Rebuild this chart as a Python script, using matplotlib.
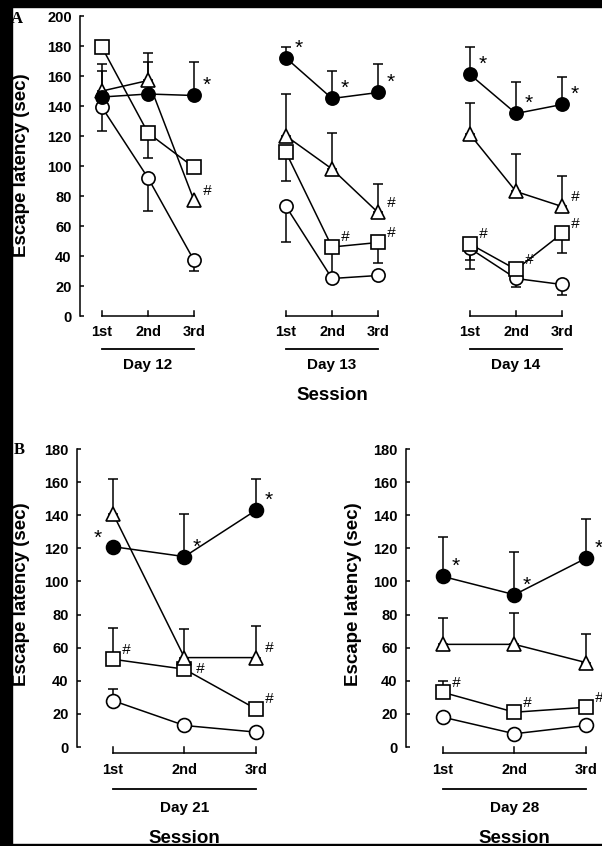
import matplotlib
matplotlib.use('Agg')
import matplotlib.pyplot as plt
from matplotlib.patches import Rectangle

plt.rcParams['font.family'] = ['Liberation Sans', 'DejaVu Sans']
plt.rcParams['font.weight'] = 'bold'

W, H = 602, 846

sessions = ['1st', '2nd', '3rd']

# panel A: three days, values per day [1st, 2nd, 3rd]
days_a = ['Day 12', 'Day 13', 'Day 14']
a_filled = [[146, 148, 147], [172, 145, 149], [161, 135, 141]]
a_filled_up = [[17, 21, 22], [7, 18, 19], [18, 21, 18]]
a_tri = [[150, 157, 77], [120, 98, 69], [121, 83, 73]]
a_tri_up = [[18, 18, 0], [28, 24, 19], [21, 25, 20]]
a_sq = [[179, 122, 99], [109, 46, 49], [48, 31, 55]]
a_sq_lo = [[0, 17, 0], [19, 20, 14], [11, 0, 13]]
a_circ = [[139, 92, 37], [73, 25, 27], [45, 25, 21]]
a_circ_lo = [[16, 22, 7], [24, 0, 0], [14, 6, 7]]

# panel B: day 21 and day 28
b21_filled = [121, 115, 143]
b21_filled_up = [0, 26, 19]
b21_tri = [141, 54, 54]
b21_tri_up = [21, 17, 19]
b21_sq = [53, 47, 23]
b21_sq_up = [19, 0, 0]
b21_circ = [28, 13, 9]
b21_circ_up = [7, 0, 0]

b28_filled = [103, 92, 114]
b28_filled_up = [24, 26, 24]
b28_tri = [62, 62, 51]
b28_tri_up = [16, 19, 17]
b28_sq = [33, 21, 24]
b28_sq_up = [7, 0, 0]
b28_circ = [18, 8, 13]
b28_circ_up = [0, 0, 0]

# significance marks: (day index, session index, series, symbol)
a_marks = [(0, 2, 'filled', '*'), (0, 2, 'tri', '#'),
           (1, 0, 'filled', '*'), (1, 1, 'filled', '*'), (1, 2, 'filled', '*'),
           (1, 2, 'tri', '#'), (1, 1, 'sq', '#'), (1, 2, 'sq', '#'),
           (2, 0, 'filled', '*'), (2, 1, 'filled', '*'), (2, 2, 'filled', '*'),
           (2, 2, 'tri', '#'), (2, 0, 'sq', '#'), (2, 1, 'sq', '#'), (2, 2, 'sq', '#')]
b21_marks = [(0, 'filled', '*'), (1, 'filled', '*'), (2, 'filled', '*'),
             (0, 'sq', '#'), (1, 'sq', '#'), (2, 'sq', '#'), (2, 'tri', '#')]
b28_marks = [(0, 'filled', '*'), (1, 'filled', '*'), (2, 'filled', '*'),
             (0, 'sq', '#'), (1, 'sq', '#'), (2, 'sq', '#')]

STYLE = {
    'filled': dict(marker='o', mfc='black'),
    'tri': dict(marker='^', mfc='white'),
    'sq': dict(marker='s', mfc='white'),
    'circ': dict(marker='o', mfc='white'),
}


def px_axes(fig, left, top, right, bottom):
    return fig.add_axes([left / W, 1 - bottom / H, (right - left) / W, (bottom - top) / H])


def style_axes(ax, ymax):
    for s in ['top', 'right', 'bottom']:
        ax.spines[s].set_visible(False)
    ax.spines['left'].set_linewidth(1.1)
    ax.set_ylim(0, ymax)
    ax.set_yticks(range(0, ymax + 1, 20))
    ax.tick_params(axis='y', direction='in', length=3, width=1.1, pad=6, labelsize=10.5)
    ax.set_xticks([])
    ax.patch.set_alpha(0)


def draw_series(ax, xs, ys, up, lo, key, ms):
    st = STYLE[key]
    ex = [x for x, u, l in zip(xs, up, lo) if u or l]
    ey = [y for y, u, l in zip(ys, up, lo) if u or l]
    el = [l for u, l in zip(up, lo) if u or l]
    eu = [u for u, l in zip(up, lo) if u or l]
    if ex:
        ax.errorbar(ex, ey, yerr=[el, eu], fmt='none', ecolor='black',
                    elinewidth=1.1, capsize=3.5, capthick=1.1, zorder=2, clip_on=False)
    ax.plot(xs, ys, color='black', lw=1.1, marker=st['marker'], ms=ms,
            mfc=st['mfc'], mec='black', mew=1.2, zorder=3, clip_on=False)


def mark(ax, x, y, sym, offset=(9, 7)):
    if sym == '*':
        ax.annotate('*', (x, y), xytext=offset, textcoords='offset points',
                    ha='center', va='center', fontsize=15, fontweight='normal')
    else:
        ax.annotate('#', (x, y), xytext=offset, textcoords='offset points',
                    ha='center', va='center', fontsize=11, style='italic',
                    fontweight='normal')


def day_axis(ax, x0, day, y_br, y_tk, y_lab, y_ul, y_day):
    xs = [x0, x0 + 1, x0 + 2]
    ax.plot([xs[0], xs[2]], [y_br, y_br], color='black', lw=1.1, clip_on=False)
    for x in xs:
        ax.plot([x, x], [y_br, y_tk], color='black', lw=1.1, clip_on=False)
    for x, s in zip(xs, sessions):
        ax.text(x, y_lab, s, ha='center', va='center', fontsize=10.5)
    ax.plot([xs[0], xs[2]], [y_ul, y_ul], color='black', lw=1.3, clip_on=False)
    ax.text(xs[1], y_day, day, ha='center', va='center', fontsize=11)


fig = plt.figure(figsize=(W / 100, H / 100), dpi=100)

# scan border
fig.patches.append(Rectangle((0, 0), 12 / W, 1, transform=fig.transFigure, color='black'))
fig.patches.append(Rectangle((0, 1 - 7 / H), 1, 7 / H, transform=fig.transFigure, color='black'))
fig.patches.append(Rectangle((0, 0), 1, 2 / H, transform=fig.transFigure, color='black'))

# ---- panel A
ax = px_axes(fig, 80, 16, 585, 316)
style_axes(ax, 200)
ax.set_xlim(-0.48, 10.5)
series_a = {'circ': (a_circ, None, a_circ_lo), 'sq': (a_sq, None, a_sq_lo),
            'tri': (a_tri, a_tri_up, None), 'filled': (a_filled, a_filled_up, None)}
for d in range(3):
    xs = [4 * d + i for i in range(3)]
    for key, (vals, up, lo) in series_a.items():
        u = up[d] if up else [0, 0, 0]
        l = lo[d] if lo else [0, 0, 0]
        draw_series(ax, xs, vals[d], u, l, key, 9.5)
    day_axis(ax, 4 * d, days_a[d], 0, 3, -10.7, -22, -32.7)
for d, s, key, sym in a_marks:
    mark(ax, 4 * d + s, series_a[key][0][d][s], sym)
ax.text(5, -52.7, 'Session', ha='center', va='center', fontsize=13.5)

fig.text(22 / W, 1 - 165 / H, 'Escape latency (sec)', rotation=90,
         ha='center', va='center', fontsize=13.5)
fig.text(17 / W, 1 - 19 / H, 'A', family='Liberation Serif', fontsize=12,
         ha='center', va='center')

# ---- panel B
panels_b = [
    (77, 270, -0.503, 'Day 21', 22,
     {'circ': (b21_circ, b21_circ_up), 'sq': (b21_sq, b21_sq_up),
      'tri': (b21_tri, b21_tri_up), 'filled': (b21_filled, b21_filled_up)},
     b21_marks, {(0, 'filled'): (-11, 6), (1, 'sq'): (11, 0)}),
    (406, 602, -0.517, 'Day 28', 353,
     {'circ': (b28_circ, b28_circ_up), 'sq': (b28_sq, b28_sq_up),
      'tri': (b28_tri, b28_tri_up), 'filled': (b28_filled, b28_filled_up)},
     b28_marks, {}),
]
for left, right, x_left, day, ylab_x, series, marks, offsets in panels_b:
    ax = px_axes(fig, left, 449, right, 747)
    style_axes(ax, 180)
    ax.set_xlim(x_left, x_left + (right - left) / 71.5)
    xs = [0, 1, 2]
    for key, (vals, up) in series.items():
        draw_series(ax, xs, vals, up, [0, 0, 0], key, 10)
    for s, key, sym in marks:
        mark(ax, s, series[key][0][s], sym, offsets.get((s, key), (9, 7)))
    day_axis(ax, 0, day, -3.6, -0.3, -14, -25.4, -36.9)
    ax.text(1, -55, 'Session', ha='center', va='center', fontsize=13.5)
    fig.text(ylab_x / W, 1 - 594 / H, 'Escape latency (sec)', rotation=90,
             ha='center', va='center', fontsize=13.5)

fig.text(19 / W, 1 - 450 / H, 'B', family='Liberation Serif', fontsize=12,
         ha='center', va='center')

fig.savefig('out.png', dpi=100, facecolor='white')
